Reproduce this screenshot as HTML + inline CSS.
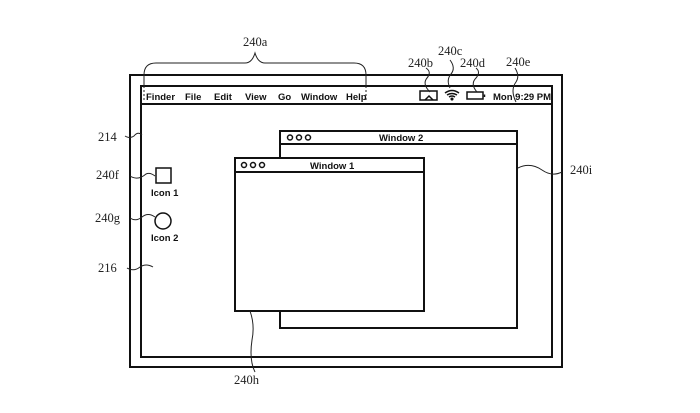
<!DOCTYPE html>
<html><head><meta charset="utf-8"><style>
html,body{margin:0;padding:0;background:#fff;}
svg{display:block}
.s{font-family:"Liberation Sans",Arial,sans-serif;font-weight:bold;font-size:9.5px;fill:#111}
.r{font-family:"Liberation Serif",serif;font-size:12.5px;fill:#222}
</style></head><body>
<svg width="700" height="413" viewBox="0 0 700 413" xmlns="http://www.w3.org/2000/svg">
<g fill="none" stroke="#111" stroke-width="2">
<rect x="130" y="75" width="432" height="292"/>
<rect x="141" y="86" width="411" height="271"/>
<line x1="141" y1="104" x2="552" y2="104"/>
<rect x="280" y="131" width="237" height="197" fill="#fff"/>
<line x1="280" y1="144" x2="517" y2="144"/>
<rect x="235" y="158" width="189" height="153" fill="#fff"/>
<line x1="235" y1="172" x2="424" y2="172"/>
</g>
<g fill="none" stroke="#111" stroke-width="1.5">
<rect x="156" y="168" width="15" height="15"/>
<circle cx="163" cy="221" r="8"/>
<circle cx="290" cy="137.5" r="2.5"/><circle cx="299" cy="137.5" r="2.5"/><circle cx="308" cy="137.5" r="2.5"/>
<circle cx="244" cy="165" r="2.5"/><circle cx="253" cy="165" r="2.5"/><circle cx="262" cy="165" r="2.5"/>
<rect x="420" y="91" width="17" height="9"/>
<polyline points="425,100 429,96 433,100"/>
<rect x="467" y="92" width="16" height="7"/>
<line x1="484.5" y1="94.5" x2="484.5" y2="97"/>
<path d="M445,93 Q452,88 459,93 M447,95 Q452,92 457,95 M449,97 Q452,95 455,97"/>
<circle cx="452" cy="99" r="0.8" fill="#111"/>
</g>
<g fill="none" stroke="#222" stroke-width="1">
<path d="M144,86 L144,75 Q144,63 156,63 L245,63 Q252,63 255,53 Q258,63 265,63 L354,63 Q366,63 366,75 L366,86" stroke-dasharray="0"/>
<path d="M144,86 L144,100 M366,86 L366,100" stroke-dasharray="2,2"/>
<path d="M430,92 Q422,84 427,78 Q432,72 426,68"/>
<path d="M450,88 Q446,80 451,74 Q456,68 450,60"/>
<path d="M477,92 Q470,84 476,78 Q481,72 476,68"/>
<path d="M516,102 Q510,90 516,82 Q520,76 515,68"/>
<path d="M142,135 Q138,131 134,136 Q130,139 125,136"/>
<path d="M155,176 Q150,172 146,174 Q138,181 130,176"/>
<path d="M155,217 Q148,212 142,217 Q136,222 130,218"/>
<path d="M153,267 Q146,263 140,267 Q134,272 127,268"/>
<path d="M250,311 Q255,325 252,340 Q249,360 255,372"/>
<path d="M518,168 Q530,162 542,170 Q552,177 562,172"/>
</g>
<text class="r" x="243" y="46">240a</text>
<text class="r" x="408" y="67">240b</text>
<text class="r" x="438" y="55">240c</text>
<text class="r" x="460" y="67">240d</text>
<text class="r" x="506" y="66">240e</text>
<text class="r" x="98" y="141">214</text>
<text class="r" x="96" y="179">240f</text>
<text class="r" x="95" y="222">240g</text>
<text class="r" x="98" y="272">216</text>
<text class="r" x="234" y="384">240h</text>
<text class="r" x="570" y="174">240i</text>
<text class="s" x="146" y="100">Finder</text>
<text class="s" x="185" y="100">File</text>
<text class="s" x="214" y="100">Edit</text>
<text class="s" x="245" y="100">View</text>
<text class="s" x="278" y="100">Go</text>
<text class="s" x="301" y="100">Window</text>
<text class="s" x="346" y="100">Help</text>
<text class="s" x="493" y="100">Mon 9:29 PM</text>
<text class="s" x="379" y="141">Window 2</text>
<text class="s" x="310" y="169">Window 1</text>
<text class="s" x="151" y="196">Icon 1</text>
<text class="s" x="151" y="241">Icon 2</text>
</svg>
</body></html>
